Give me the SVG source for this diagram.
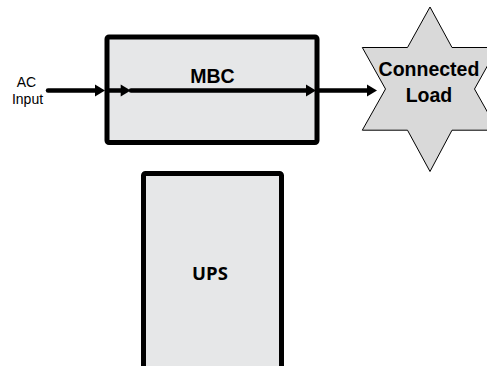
<svg xmlns="http://www.w3.org/2000/svg" width="487" height="366" viewBox="0 0 487 366">
<style>
.box{fill:#e6e7e8;stroke:#000;stroke-width:5}
.star{fill:#d9d9d9;stroke:#000;stroke-width:1}
.lbl{font-family:"Liberation Sans",Arial,sans-serif;fill:#000;text-anchor:middle}
.b{font-weight:bold}
.ups{font-family:"Open Sans","Liberation Sans",sans-serif;font-weight:bold;fill:#000;text-anchor:middle}
.wire{fill:none;stroke:#000;stroke-width:4.5;stroke-linecap:round}
</style>
<defs>
<marker id="ah" markerUnits="userSpaceOnUse" markerWidth="10" markerHeight="12" refX="3" refY="6" orient="auto" overflow="visible">
<path d="M0,0 L10,6 L0,12 z" fill="#000"/>
</marker>
</defs>
<g id="ac-input">
<text class="lbl" x="26.5" y="86.7" font-size="14">AC</text>
<text class="lbl" x="27.5" y="104.3" font-size="14">Input</text>
</g>
<g id="mbc">
<rect class="box" x="107" y="37" width="210" height="105.5" rx="2"/>
<text class="lbl b" x="212.5" y="83.3" font-size="19.5">MBC</text>
</g>
<g id="ups">
<rect class="box" x="143.5" y="173.5" width="138" height="210" rx="2"/>
<text class="ups" x="210" y="280" font-size="18.5">UPS</text>
</g>
<g id="load">
<polygon class="star" points="430,7 452,47.5 497.7,47.5 474.5,89 497.7,130.2 452,130.2 430,171.5 407.5,130.2 362.3,130.2 385.5,89 362.3,47.5 407.5,47.5"/>
<text class="lbl b" x="429" y="76" font-size="19.5">Connected</text>
<text class="lbl b" x="429" y="101.7" font-size="19.5">Load</text>
</g>
<g id="connectors">
<path class="wire" d="M48,90.5 H98" marker-end="url(#ah)"/>
<path class="wire" d="M109,90.5 H123.7" marker-end="url(#ah)"/>
<path class="wire" d="M131,90.5 H309" marker-end="url(#ah)"/>
<path class="wire" d="M319,90.5 H370" marker-end="url(#ah)"/>
</g>
</svg>
